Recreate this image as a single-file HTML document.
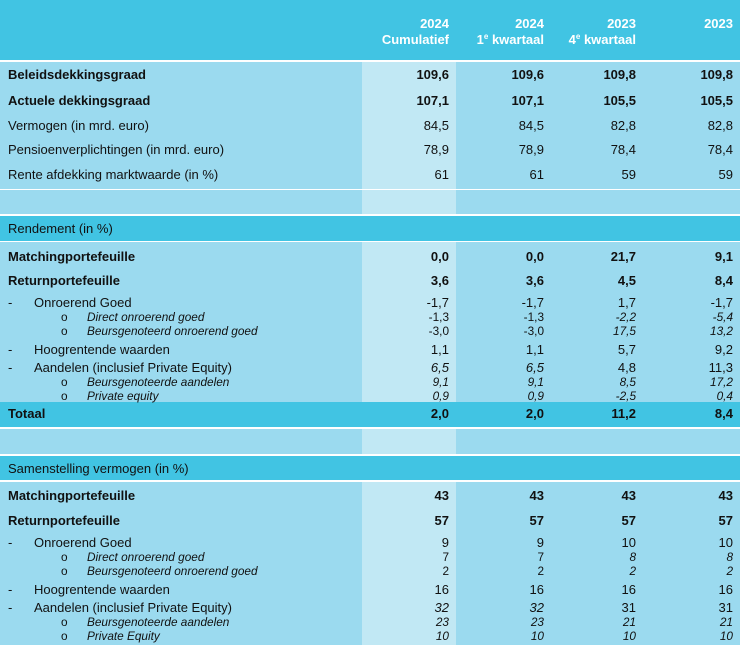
<!DOCTYPE html>
<html><head><meta charset="utf-8"><style>
body{margin:0;width:740px;height:645px;overflow:hidden;background:#9bdaef;font-family:"Liberation Sans",Arial,sans-serif;color:#111;position:relative}
.b{position:absolute;left:0;width:740px}
.d{background:#41c4e3}
.w{background:#fff}
.col{position:absolute;left:362px;width:94px;background:#c1e8f4}
.r{position:absolute;left:0;width:740px;height:16px;line-height:16px;font-size:13px}
.r span{position:absolute;top:0;white-space:nowrap}
.v1{right:291px}.v2{right:196px}.v3{right:104px}.v4{right:7px}
.bo{font-weight:bold}
.s{font-size:11.8px;font-style:italic}
.hd{position:absolute;top:16px;font-size:13px;font-weight:bold;color:#fff;text-align:right;line-height:16px;white-space:nowrap}
.hd sup{font-size:8px;line-height:0;vertical-align:5px}
</style></head><body>
<div class="b d" style="top:0;height:60px"></div>
<div class="b w" style="top:60px;height:2px"></div>
<div class="col" style="top:62px;height:127px"></div>
<div class="b w" style="top:189px;height:1px"></div>
<div class="col" style="top:190px;height:24px"></div>
<div class="b w" style="top:214px;height:2px"></div>
<div class="b d" style="top:216px;height:25px"></div>
<div class="b w" style="top:241px;height:1px"></div>
<div class="col" style="top:242px;height:160px"></div>
<div class="b d" style="top:402px;height:25px"></div>
<div class="b w" style="top:427px;height:2px"></div>
<div class="col" style="top:429px;height:25px"></div>
<div class="b w" style="top:454px;height:2px"></div>
<div class="b d" style="top:456px;height:24px"></div>
<div class="b w" style="top:480px;height:2px"></div>
<div class="col" style="top:482px;height:163px"></div>

<div class="hd" style="right:291px">2024<br>Cumulatief</div>
<div class="hd" style="right:196px">2024<br>1<sup>e</sup> kwartaal</div>
<div class="hd" style="right:104px">2023<br>4<sup>e</sup> kwartaal</div>
<div class="hd" style="right:7px">2023</div>

<div class="r bo" style="top:67px"><span style="left:8px">Beleidsdekkingsgraad</span><span class="v1">109,6</span><span class="v2">109,6</span><span class="v3">109,8</span><span class="v4">109,8</span></div>
<div class="r bo" style="top:93px"><span style="left:8px">Actuele dekkingsgraad</span><span class="v1">107,1</span><span class="v2">107,1</span><span class="v3">105,5</span><span class="v4">105,5</span></div>
<div class="r" style="top:118px"><span style="left:8px">Vermogen (in mrd. euro)</span><span class="v1">84,5</span><span class="v2">84,5</span><span class="v3">82,8</span><span class="v4">82,8</span></div>
<div class="r" style="top:142px"><span style="left:8px">Pensioenverplichtingen (in mrd. euro)</span><span class="v1">78,9</span><span class="v2">78,9</span><span class="v3">78,4</span><span class="v4">78,4</span></div>
<div class="r" style="top:167px"><span style="left:8px">Rente afdekking marktwaarde (in %)</span><span class="v1">61</span><span class="v2">61</span><span class="v3">59</span><span class="v4">59</span></div>

<div class="r" style="top:221px"><span style="left:8px">Rendement (in %)</span></div>
<div class="r bo" style="top:249px"><span style="left:8px">Matchingportefeuille</span><span class="v1">0,0</span><span class="v2">0,0</span><span class="v3">21,7</span><span class="v4">9,1</span></div>
<div class="r bo" style="top:273px"><span style="left:8px">Returnportefeuille</span><span class="v1">3,6</span><span class="v2">3,6</span><span class="v3">4,5</span><span class="v4">8,4</span></div>
<div class="r" style="top:295px"><span style="left:8px">-</span><span style="left:34px">Onroerend Goed</span><span class="v1">-1,7</span><span class="v2">-1,7</span><span class="v3">1,7</span><span class="v4">-1,7</span></div>
<div class="r s" style="top:309px"><span style="left:61px;font-style:normal">o</span><span style="left:87px">Direct onroerend goed</span><span class="v1" style="font-style:normal">-1,3</span><span class="v2" style="font-style:normal">-1,3</span><span class="v3">-2,2</span><span class="v4">-5,4</span></div>
<div class="r s" style="top:323px"><span style="left:61px;font-style:normal">o</span><span style="left:87px">Beursgenoteerd onroerend goed</span><span class="v1" style="font-style:normal">-3,0</span><span class="v2" style="font-style:normal">-3,0</span><span class="v3">17,5</span><span class="v4">13,2</span></div>
<div class="r" style="top:342px"><span style="left:8px">-</span><span style="left:34px">Hoogrentende waarden</span><span class="v1">1,1</span><span class="v2">1,1</span><span class="v3">5,7</span><span class="v4">9,2</span></div>
<div class="r" style="top:360px"><span style="left:8px">-</span><span style="left:34px">Aandelen (inclusief Private Equity)</span><span class="v1" style="font-style:italic">6,5</span><span class="v2" style="font-style:italic">6,5</span><span class="v3">4,8</span><span class="v4">11,3</span></div>
<div class="r s" style="top:374px"><span style="left:61px;font-style:normal">o</span><span style="left:87px">Beursgenoteerde aandelen</span><span class="v1">9,1</span><span class="v2">9,1</span><span class="v3">8,5</span><span class="v4">17,2</span></div>
<div class="r s" style="top:388px"><span style="left:61px;font-style:normal">o</span><span style="left:87px">Private equity</span><span class="v1">0,9</span><span class="v2">0,9</span><span class="v3">-2,5</span><span class="v4">0,4</span></div>
<div class="r bo" style="top:406px"><span style="left:8px">Totaal</span><span class="v1">2,0</span><span class="v2">2,0</span><span class="v3">11,2</span><span class="v4">8,4</span></div>

<div class="r" style="top:461px"><span style="left:8px">Samenstelling vermogen (in %)</span></div>
<div class="r bo" style="top:488px"><span style="left:8px">Matchingportefeuille</span><span class="v1">43</span><span class="v2">43</span><span class="v3">43</span><span class="v4">43</span></div>
<div class="r bo" style="top:513px"><span style="left:8px">Returnportefeuille</span><span class="v1">57</span><span class="v2">57</span><span class="v3">57</span><span class="v4">57</span></div>
<div class="r" style="top:535px"><span style="left:8px">-</span><span style="left:34px">Onroerend Goed</span><span class="v1">9</span><span class="v2">9</span><span class="v3">10</span><span class="v4">10</span></div>
<div class="r s" style="top:549px"><span style="left:61px;font-style:normal">o</span><span style="left:87px">Direct onroerend goed</span><span class="v1" style="font-style:normal">7</span><span class="v2" style="font-style:normal">7</span><span class="v3">8</span><span class="v4">8</span></div>
<div class="r s" style="top:563px"><span style="left:61px;font-style:normal">o</span><span style="left:87px">Beursgenoteerd onroerend goed</span><span class="v1" style="font-style:normal">2</span><span class="v2" style="font-style:normal">2</span><span class="v3">2</span><span class="v4">2</span></div>
<div class="r" style="top:582px"><span style="left:8px">-</span><span style="left:34px">Hoogrentende waarden</span><span class="v1">16</span><span class="v2">16</span><span class="v3">16</span><span class="v4">16</span></div>
<div class="r" style="top:600px"><span style="left:8px">-</span><span style="left:34px">Aandelen (inclusief Private Equity)</span><span class="v1" style="font-style:italic">32</span><span class="v2" style="font-style:italic">32</span><span class="v3">31</span><span class="v4">31</span></div>
<div class="r s" style="top:614px"><span style="left:61px;font-style:normal">o</span><span style="left:87px">Beursgenoteerde aandelen</span><span class="v1">23</span><span class="v2">23</span><span class="v3">21</span><span class="v4">21</span></div>
<div class="r s" style="top:628px"><span style="left:61px;font-style:normal">o</span><span style="left:87px">Private Equity</span><span class="v1">10</span><span class="v2">10</span><span class="v3">10</span><span class="v4">10</span></div>
</body></html>
